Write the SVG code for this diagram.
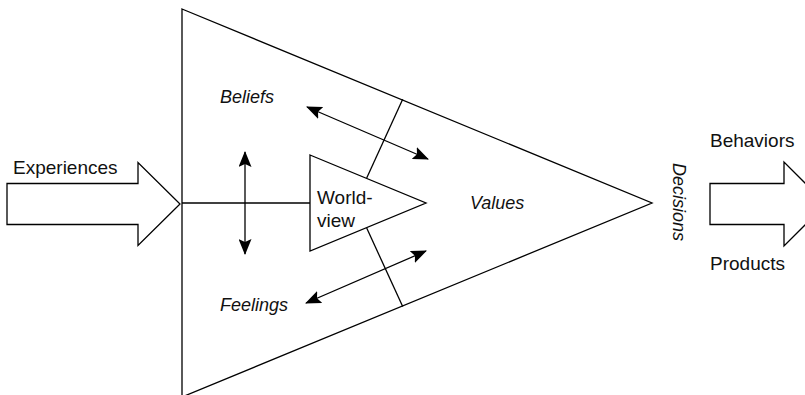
<svg xmlns="http://www.w3.org/2000/svg" width="805" height="395" viewBox="0 0 805 395">
<style>
.ln{fill:none;stroke:#000;stroke-width:1.3}
.sh{fill:#fff;stroke:#000;stroke-width:1.3;stroke-linejoin:miter}
.t{font-family:"Liberation Sans",Arial,sans-serif;font-size:19px;fill:#111}
.i{font-family:"Liberation Sans",Arial,sans-serif;font-size:18px;font-style:italic;fill:#111}
</style>
<defs>
<marker id="ah" viewBox="0 0 16 13" refX="15" refY="6.5" markerWidth="16" markerHeight="13" markerUnits="userSpaceOnUse" orient="auto-start-reverse">
<path d="M0,0 L16,6.5 L0,13 L3,6.5 z" fill="#000"/>
</marker>
</defs>
<rect width="805" height="395" fill="#fff"/>
<g id="experiences">
<polygon class="sh" points="7,183.5 138,183.5 138,162.5 180,204 138,245.5 138,224.5 7,224.5"/>
<text class="t" x="13" y="174">Experiences</text>
</g>
<g id="main-triangle">
<polygon class="sh" points="182,9 652,203 182,397"/>
<text class="i" x="470" y="209">Values</text>
</g>
<g id="worldview">
<polygon class="sh" points="310,155 426,203 310,251"/>
<text class="t" x="317" y="204">World-</text>
<text class="t" x="317" y="227">view</text>
</g>
<g id="beliefs"><text class="i" x="220" y="103">Beliefs</text></g>
<g id="feelings"><text class="i" x="220" y="311">Feelings</text></g>
<g id="decisions"><text class="i" transform="translate(673,163) rotate(90)">Decisions</text></g>
<g id="outputs">
<polygon class="sh" points="710,183.5 784,183.5 784,162 826,204 784,246 784,224.5 710,224.5"/>
<text class="t" x="710" y="147">Behaviors</text>
<text class="t" x="710" y="270">Products</text>
</g>
<g id="connectors">
<line class="ln" x1="182" y1="203" x2="310" y2="203"/>
<line class="ln" x1="366.7" y1="178" x2="402.7" y2="99.2"/>
<line class="ln" x1="366.7" y1="228" x2="402.7" y2="306.6"/>
<line class="ln" x1="245" y1="152" x2="245" y2="254" marker-start="url(#ah)" marker-end="url(#ah)"/>
<line class="ln" x1="307" y1="107" x2="428" y2="159" marker-start="url(#ah)" marker-end="url(#ah)"/>
<line class="ln" x1="306" y1="303" x2="426" y2="251" marker-start="url(#ah)" marker-end="url(#ah)"/>
</g>
</svg>
